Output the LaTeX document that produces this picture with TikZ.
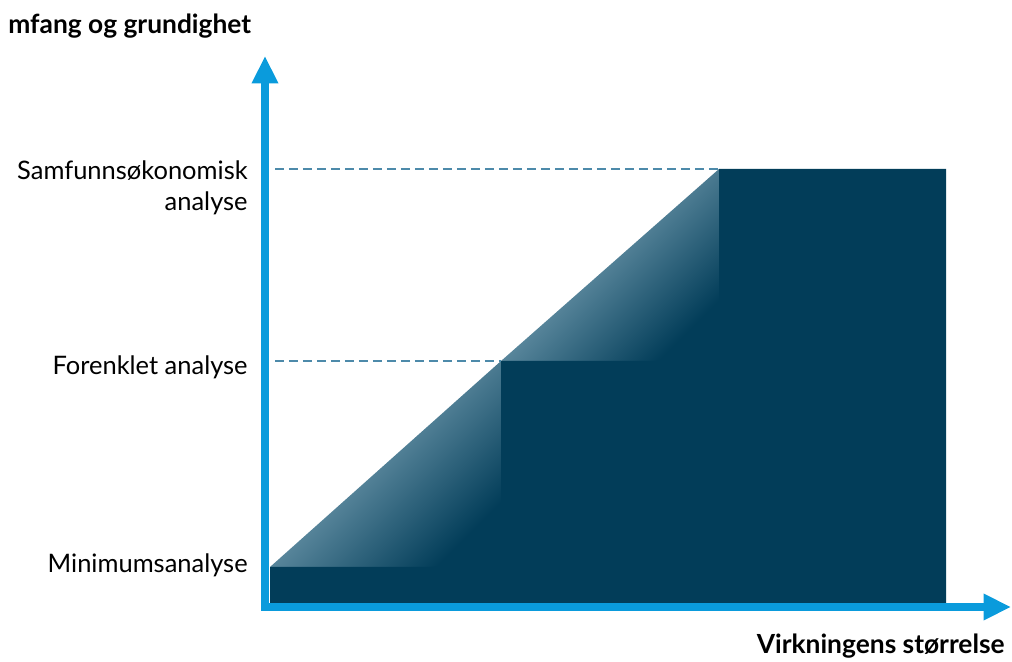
\documentclass[tikz,border=0pt]{standalone}
\usepackage{fontspec}
\setmainfont{Lato}
\usetikzlibrary{arrows.meta}

\definecolor{axisblue}{HTML}{0A9BDC}
\definecolor{navy}{HTML}{023D59}
\definecolor{paleblue}{HTML}{A0C2D2}
\definecolor{dashblue}{HTML}{4D8AAA}

\begin{document}
\begin{tikzpicture}[x=0.02cm,y=-0.02cm,
    axis/.style={line width=4pt,axisblue,line join=miter,
      {Triangle[width=0.5cm,length=0.55cm]}-{Triangle[width=0.5cm,length=0.55cm]}},
    level/.style={dashblue,line width=0.8pt,dash pattern=on 0.18cm off 0.1cm},
    wedge/.style={top color=paleblue,bottom color=navy,shading angle=45},
    lbl/.style={font=\fontsize{14.5}{17.5}\selectfont,align=right,anchor=east,inner sep=0pt},
    ttl/.style={font=\fontsize{15}{18}\selectfont\bfseries,inner sep=0pt}]
    \useasboundingbox (0,0) rectangle (1012,662);

    \coordinate (o) at (265,607);
    \coordinate (ytip) at (265,56);
    \coordinate (xtip) at (1011,607);
    \coordinate (s0) at (270,567);
    \coordinate (s1) at (501,361);
    \coordinate (s2) at (719,169);

    % shaded wedges under the diagonal
    \shade[wedge](s0)--(s1)--(s1|-s0)--cycle;
    \shade[wedge](s1)--(s2)--(s2|-s1)--cycle;

    % steps
    \fill[navy](270,603)--(s0)--(s1|-s0)--(s1)--(s2|-s1)--(s2)--(946,169)--(946,603)--cycle;

    % levels
    \draw[level](275,169)--(s2);
    \draw[level](275,361)--(s1);

    \draw[axis](ytip)--(o)--(xtip);

    \node[lbl](samf)at(248,188){Samfunnsøkonomisk\\analyse};
    \node[lbl](forenk)at(248,367){Forenklet analyse};
    \node[lbl](minim)at(248,565){Minimumsanalyse};
    \node[ttl,anchor=west](ylab)at(8,26){mfang og grundighet};
    \node[ttl,anchor=east](xlab)at(1005,646){Virkningens størrelse};
\end{tikzpicture}
\end{document}
